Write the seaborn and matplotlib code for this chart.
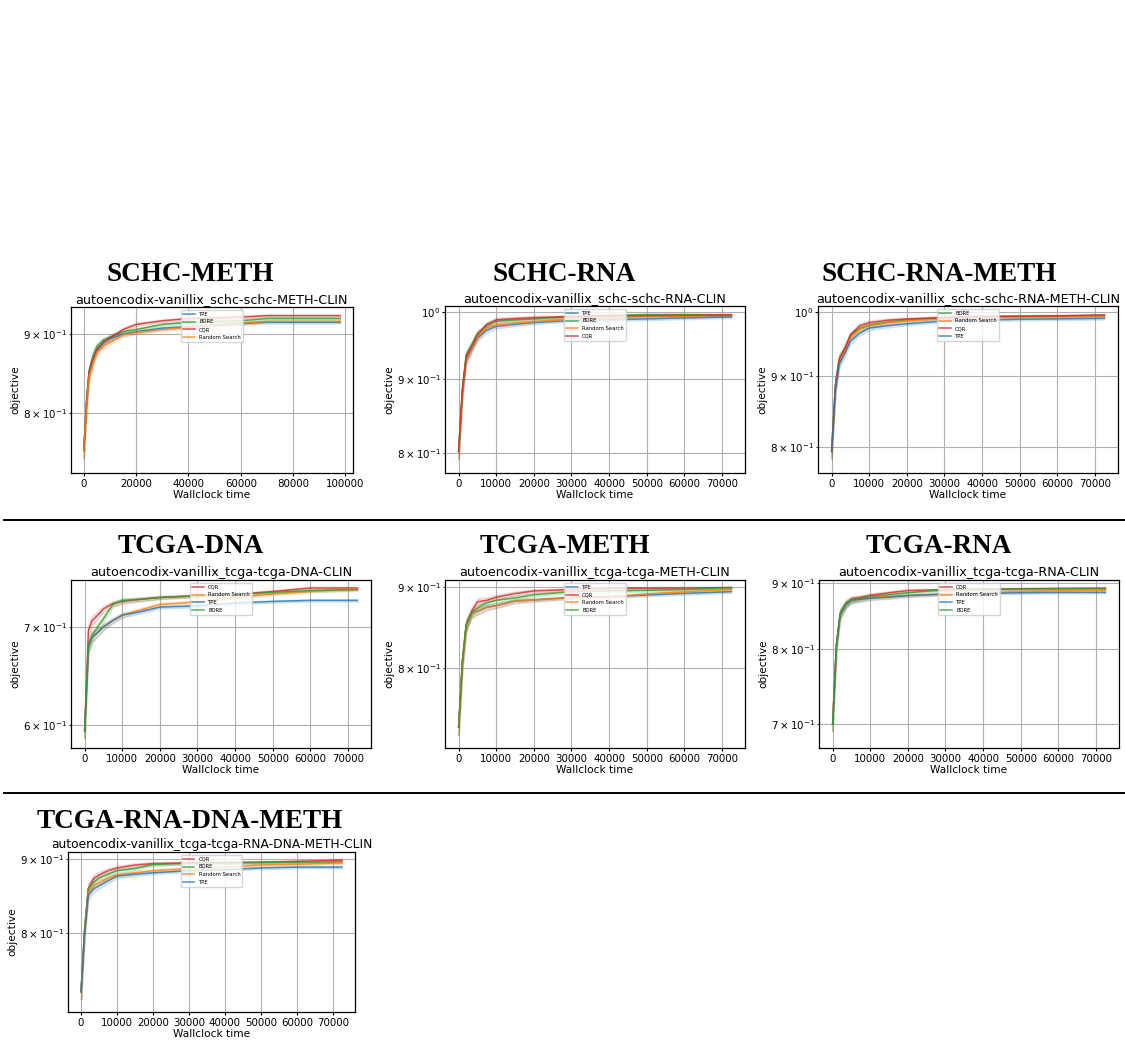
import numpy as np
import pandas as pd
import matplotlib
matplotlib.use("Agg")
import matplotlib.pyplot as plt
from matplotlib.lines import Line2D
import seaborn as sns

# ---- data -------------------------------------------------------------
t_long = [0, 1000, 2000, 3500, 5000, 7500, 10000, 15000, 20000, 30000,
          40000, 50000, 60000, 70000, 98000]
t_std = [0, 1000, 2000, 3500, 5000, 7500, 10000, 15000, 20000, 30000,
         40000, 50000, 60000, 72500]

# relative half-width of the shaded spread at each time step
band_long = [0.012, 0.010, 0.008, 0.006, 0.005, 0.004, 0.0035, 0.003,
             0.0025, 0.002, 0.002, 0.002, 0.002, 0.002, 0.002]
band_std = [0.012, 0.010, 0.008, 0.006, 0.005, 0.004, 0.0035, 0.003,
            0.0025, 0.002, 0.002, 0.002, 0.002, 0.002]

# SCHC-METH
schc_meth_tpe = [0.757, 0.810, 0.849, 0.865, 0.878, 0.888, 0.894, 0.900, 0.903, 0.908, 0.910, 0.912, 0.914, 0.916, 0.916]
schc_meth_bore = [0.757, 0.815, 0.852, 0.872, 0.884, 0.892, 0.896, 0.903, 0.906, 0.913, 0.916, 0.917, 0.918, 0.921, 0.921]
schc_meth_cqr = [0.757, 0.812, 0.850, 0.868, 0.880, 0.890, 0.895, 0.906, 0.913, 0.918, 0.921, 0.922, 0.923, 0.925, 0.925]
schc_meth_rs = [0.757, 0.808, 0.845, 0.862, 0.876, 0.884, 0.889, 0.899, 0.902, 0.906, 0.909, 0.912, 0.915, 0.917, 0.917]

# SCHC-RNA
schc_rna_tpe = [0.802, 0.880, 0.928, 0.944, 0.960, 0.972, 0.978, 0.981, 0.9838, 0.987, 0.988, 0.9895, 0.991, 0.9926]
schc_rna_bore = [0.802, 0.886, 0.934, 0.950, 0.967, 0.979, 0.986, 0.988, 0.9895, 0.9932, 0.995, 0.9963, 0.9963, 0.9958]
schc_rna_rs = [0.802, 0.882, 0.930, 0.945, 0.962, 0.976, 0.980, 0.983, 0.9853, 0.9895, 0.991, 0.9932, 0.994, 0.9958]
schc_rna_cqr = [0.802, 0.886, 0.932, 0.948, 0.965, 0.981, 0.988, 0.990, 0.9916, 0.9932, 0.994, 0.9947, 0.995, 0.9958]

# SCHC-RNA-METH
schc_rnameth_bore = [0.794, 0.886, 0.925, 0.941, 0.963, 0.974, 0.979, 0.984, 0.9874, 0.9916, 0.993, 0.9934, 0.994, 0.9945]
schc_rnameth_rs = [0.794, 0.884, 0.923, 0.939, 0.960, 0.972, 0.978, 0.983, 0.986, 0.990, 0.992, 0.9928, 0.993, 0.994]
schc_rnameth_cqr = [0.794, 0.886, 0.925, 0.942, 0.963, 0.978, 0.983, 0.987, 0.989, 0.9912, 0.993, 0.9934, 0.994, 0.9956]
schc_rnameth_tpe = [0.794, 0.880, 0.918, 0.934, 0.953, 0.966, 0.974, 0.978, 0.981, 0.9858, 0.987, 0.9885, 0.989, 0.990]

# TCGA-DNA
tcga_dna_cqr = [0.595, 0.696, 0.707, 0.713, 0.720, 0.726, 0.7285, 0.731, 0.733, 0.735, 0.7365, 0.740, 0.744, 0.744]
tcga_dna_rs = [0.595, 0.678, 0.689, 0.694, 0.700, 0.707, 0.713, 0.719, 0.725, 0.728, 0.733, 0.737, 0.740, 0.743]
tcga_dna_tpe = [0.595, 0.678, 0.689, 0.694, 0.700, 0.707, 0.713, 0.717, 0.722, 0.7235, 0.7266, 0.7285, 0.7297, 0.7297]
tcga_dna_bore = [0.595, 0.680, 0.691, 0.700, 0.709, 0.725, 0.7297, 0.731, 0.733, 0.735, 0.7365, 0.739, 0.741, 0.742]

# TCGA-METH
tcga_meth_tpe = [0.733, 0.806, 0.850, 0.866, 0.869, 0.874, 0.876, 0.882, 0.8834, 0.8865, 0.8875, 0.890, 0.892, 0.8942]
tcga_meth_cqr = [0.733, 0.808, 0.852, 0.869, 0.881, 0.883, 0.887, 0.8918, 0.8952, 0.897, 0.8987, 0.8987, 0.899, 0.8995]
tcga_meth_rs = [0.733, 0.806, 0.850, 0.866, 0.869, 0.874, 0.876, 0.882, 0.8834, 0.8868, 0.8875, 0.8913, 0.894, 0.897]
tcga_meth_bore = [0.733, 0.808, 0.852, 0.867, 0.873, 0.880, 0.883, 0.886, 0.8902, 0.8943, 0.8952, 0.896, 0.897, 0.8995]

# TCGA-RNA
tcga_rna_cqr = [0.700, 0.805, 0.852, 0.867, 0.874, 0.877, 0.880, 0.884, 0.8875, 0.889, 0.8895, 0.8900, 0.8905, 0.891]
tcga_rna_rs = [0.700, 0.805, 0.852, 0.866, 0.873, 0.874, 0.8765, 0.878, 0.8796, 0.882, 0.884, 0.886, 0.887, 0.888]
tcga_rna_tpe = [0.700, 0.805, 0.850, 0.865, 0.872, 0.874, 0.8755, 0.877, 0.8796, 0.882, 0.883, 0.884, 0.8845, 0.8846]
tcga_rna_bore = [0.700, 0.806, 0.852, 0.867, 0.873, 0.875, 0.8785, 0.881, 0.884, 0.889, 0.8895, 0.8904, 0.8907, 0.891]

# TCGA-RNA-DNA-METH
tcga_all_cqr = [0.728, 0.805, 0.858, 0.872, 0.877, 0.883, 0.8868, 0.891, 0.893, 0.894, 0.8945, 0.895, 0.8962, 0.898]
tcga_all_bore = [0.728, 0.805, 0.858, 0.867, 0.873, 0.878, 0.883, 0.886, 0.8918, 0.8935, 0.894, 0.8945, 0.895, 0.8953]
tcga_all_rs = [0.728, 0.803, 0.853, 0.863, 0.866, 0.8726, 0.877, 0.880, 0.883, 0.886, 0.888, 0.891, 0.892, 0.894]
tcga_all_tpe = [0.728, 0.800, 0.849, 0.858, 0.862, 0.869, 0.8755, 0.878, 0.880, 0.883, 0.8844, 0.8868, 0.888, 0.888]

panel_headers = ["SCHC-METH", "SCHC-RNA", "SCHC-RNA-METH",
                 "TCGA-DNA", "TCGA-METH", "TCGA-RNA", "TCGA-RNA-DNA-METH"]
panel_titles = ["autoencodix-vanillix_schc-schc-METH-CLIN",
                "autoencodix-vanillix_schc-schc-RNA-CLIN",
                "autoencodix-vanillix_schc-schc-RNA-METH-CLIN",
                "autoencodix-vanillix_tcga-tcga-DNA-CLIN",
                "autoencodix-vanillix_tcga-tcga-METH-CLIN",
                "autoencodix-vanillix_tcga-tcga-RNA-CLIN",
                "autoencodix-vanillix_tcga-tcga-RNA-DNA-METH-CLIN"]
title_sizes = [9.2, 9.2, 9.2, 9.2, 9.2, 9.2, 8.8]

panels = [
    (t_long, band_long, [("TPE", schc_meth_tpe), ("BORE", schc_meth_bore),
                         ("CQR", schc_meth_cqr), ("Random Search", schc_meth_rs)],
     (0.732, 0.937)),
    (t_std, band_std, [("TPE", schc_rna_tpe), ("BORE", schc_rna_bore),
                       ("Random Search", schc_rna_rs), ("CQR", schc_rna_cqr)],
     (0.775, 1.010)),
    (t_std, band_std, [("BORE", schc_rnameth_bore), ("Random Search", schc_rnameth_rs),
                       ("CQR", schc_rnameth_cqr), ("TPE", schc_rnameth_tpe)],
     (0.766, 1.0105)),
    (t_std, band_std, [("CQR", tcga_dna_cqr), ("Random Search", tcga_dna_rs),
                       ("TPE", tcga_dna_tpe), ("BORE", tcga_dna_bore)],
     (0.579, 0.7534)),
    (t_std, band_std, [("TPE", tcga_meth_tpe), ("CQR", tcga_meth_cqr),
                       ("Random Search", tcga_meth_rs), ("BORE", tcga_meth_bore)],
     (0.711, 0.9097)),
    (t_std, band_std, [("CQR", tcga_rna_cqr), ("Random Search", tcga_rna_rs),
                       ("TPE", tcga_rna_tpe), ("BORE", tcga_rna_bore)],
     (0.671, 0.9043)),
    (t_std, band_std, [("CQR", tcga_all_cqr), ("BORE", tcga_all_bore),
                       ("Random Search", tcga_all_rs), ("TPE", tcga_all_tpe)],
     (0.705, 0.9097)),
]

method_colors = {"TPE": "#1f77b4", "BORE": "#2ca02c",
                 "CQR": "#d62728", "Random Search": "#ff7f0e"}

# ---- layout (pixel boxes: left, top, right, bottom) --------------------
W, H = 1125, 1040
axes_boxes = [(71, 307, 353, 473), (445, 306, 745, 473), (818, 306, 1118, 473),
              (71, 580, 371, 748), (445, 580, 745, 748), (819, 580, 1119, 748),
              (68, 852, 355, 1012)]
header_pos = [(190, 281), (564, 281), (939, 281),
              (191, 553), (565, 553), (939, 553),
              (190, 828)]

plt.rcParams.update({"font.size": 7.6,
                     "xtick.labelsize": 7.4, "ytick.labelsize": 7.4,
                     "axes.labelsize": 7.6, "axes.titlesize": 9.2,
                     "xtick.major.size": 2.4, "ytick.major.size": 2.4,
                     "ytick.minor.size": 1.5,
                     "xtick.major.pad": 1.6, "ytick.major.pad": 1.2,
                     "ytick.minor.pad": 1.2,
                     "axes.linewidth": 0.9})

fig = plt.figure(figsize=(W / 100, H / 100), dpi=100)


def long_frame(times, band, series):
    rows = []
    for name, vals in series:
        for ti, v, b in zip(times, vals, band):
            rows.append((ti, v * (1 - b), name))
            rows.append((ti, v, name))
            rows.append((ti, v * (1 + b), name))
    return pd.DataFrame(rows, columns=["time", "objective", "method"])


for (times, band, series, ylim), box, title, tsize in zip(
        panels, axes_boxes, panel_titles, title_sizes):
    l, t, r, b = box
    ax = fig.add_axes([l / W, 1 - b / H, (r - l) / W, (b - t) / H])
    df = long_frame(times, band, series)
    order = [name for name, _ in series]
    sns.lineplot(data=df, x="time", y="objective", hue="method",
                 hue_order=order, palette=method_colors,
                 estimator="median", errorbar=("pi", 100),
                 linewidth=1.1, alpha=0.8, err_kws={"alpha": 0.15},
                 ax=ax)
    ax.set_yscale("log")
    ax.set_ylim(*ylim)
    ax.grid(True, which="both", color="#b0b0b0", linewidth=0.8)
    ax.set_axisbelow(True)
    ax.set_title(title, pad=3, fontsize=tsize)
    ax.set_xlabel("Wallclock time", labelpad=1)
    ax.set_ylabel("objective", labelpad=2)
    ax.legend(loc="upper center", fontsize=3.8, handlelength=2.2,
              borderpad=0.4, labelspacing=0.5, framealpha=0.8)

for text, (x, y) in zip(panel_headers, header_pos):
    fig.text(x / W, 1 - y / H, text, ha="center", va="baseline",
             fontsize=19.5, fontweight="bold", family="Liberation Serif")

for y in (520, 793):
    fig.add_artist(Line2D([4 / W, 1.0], [1 - y / H, 1 - y / H],
                          color="black", linewidth=1.4,
                          transform=fig.transFigure))

fig.savefig("out.png", dpi=100)
